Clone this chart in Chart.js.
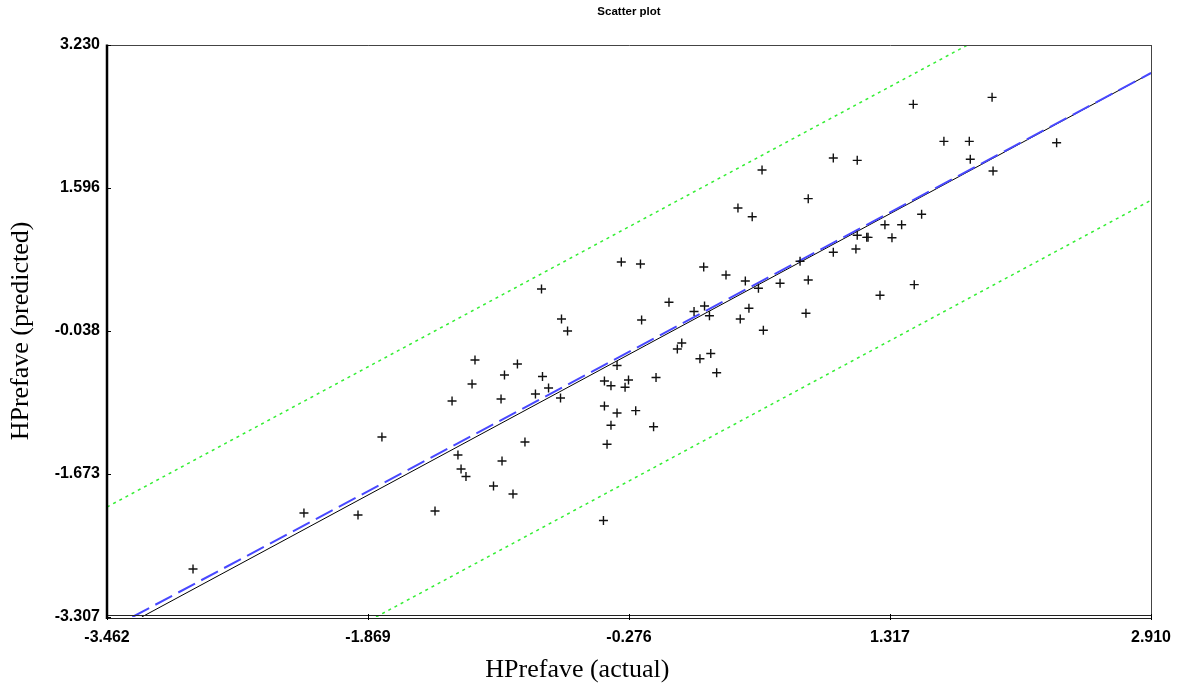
<!DOCTYPE html>
<html>
<head>
<meta charset="utf-8">
<script src="https://cdn.jsdelivr.net/npm/chart.js@4.4.1/dist/chart.umd.min.js"></script>
<style>
  html, body { margin: 0; padding: 0; background: #ffffff; }
  #wrap { width: 1185px; height: 684px; position: relative; }
</style>
</head>
<body>
<div id="wrap"><canvas id="c" width="1185" height="684"></canvas></div>
<script>
// ---- data ----
const actualValues = [
  -2.937, -2.260, -1.930, -1.784, -1.460, -1.356, -1.320, -1.301, -1.271, -1.234,
  -1.216, -1.103, -1.057, -1.051, -1.036, -0.984, -0.957, -0.911, -0.847, -0.810,
  -0.804, -0.767, -0.694, -0.688, -0.651, -0.432, -0.426, -0.426, -0.410, -0.386,
  -0.386, -0.349, -0.349, -0.323, -0.300, -0.279, -0.235, -0.206, -0.199, -0.126,
  -0.111, -0.032, 0.019, 0.046, 0.121, 0.157, 0.180, 0.185, 0.215, 0.223,
  0.259, 0.316, 0.389, 0.403, 0.434, 0.456, 0.476, 0.514, 0.536, 0.544,
  0.646, 0.768, 0.804, 0.818, 0.818, 0.971, 0.971, 1.109, 1.117, 1.117,
  1.175, 1.183, 1.256, 1.286, 1.329, 1.388, 1.459, 1.465, 1.510, 1.646,
  1.801, 1.807, 1.940, 1.946, 2.334
];
const predictedValues = [
  -2.758, -2.118, -2.141, -1.250, -2.095, -0.838, -1.455, -1.615, -1.701, -0.644,
  -0.370, -1.810, -0.815, -1.524, -0.541, -1.901, -0.416, -1.307, -0.758, 0.442,
  -0.558, -0.690, -0.804, 0.099, -0.038, -2.204, -0.610, -0.896, -1.333, -0.664,
  -1.116, -0.433, -0.976, 0.750, -0.682, -0.598, -0.949, 0.727, 0.087, -1.132,
  -0.570, 0.290, -0.244, -0.176, 0.184, -0.355, 0.693, 0.247, 0.136, -0.296,
  -0.515, 0.602, 1.367, 0.099, 0.533, 0.221, 1.268, 0.450, 1.801, -0.030,
  0.507, 0.758, 0.164, 1.474, 0.544, 0.861, 1.939, 0.899, 1.912, 1.055,
  1.032, 1.032, 0.370, 1.176, 1.028, 1.176, 2.552, 0.491, 1.295, 2.129,
  2.129, 1.924, 2.632, 1.790, 2.113
];

// reference lines (end points)
const identityX = [-3.307, 2.910];
const identityY = [-3.307, 2.910];
const fitX = [-3.250, 2.910];
const fitY = [-3.307, 2.909];
const upperBandX = [-3.462, 1.790];
const upperBandY = [-2.050, 3.230];
const lowerBandX = [-1.820, 2.910];
const lowerBandY = [-3.307, 1.455];

// axes
const xRange = [-3.462, 2.910];
const yRange = [-3.307, 3.230];
const xTicks = [-3.462, -1.869, -0.276, 1.317, 2.910];
const xTickLabels = ['-3.462', '-1.869', '-0.276', '1.317', '2.910'];
const yTicks = [-3.307, -1.673, -0.038, 1.596, 3.230];
const yTickLabels = ['-3.307', '-1.673', '-0.038', '1.596', '3.230'];

const titleText = 'Scatter plot';
const xTitle = 'HPrefave (actual)';
const yTitle = 'HPrefave (predicted)';

// ---- build ----
const toPts = (xs, ys) => xs.map((x, i) => ({ x: x, y: ys[i] }));

const framePlugin = {
  id: 'frame',
  afterDatasetsDraw(chart) {
    const { ctx, chartArea: a, scales } = chart;
    ctx.save();
    // top and right thin borders
    ctx.strokeStyle = '#444444';
    ctx.lineWidth = 1;
    ctx.beginPath();
    ctx.moveTo(a.left, a.top + 0.5); ctx.lineTo(a.right + 0.5, a.top + 0.5);
    ctx.moveTo(a.right + 0.5, a.top); ctx.lineTo(a.right + 0.5, a.bottom + 2);
    ctx.stroke();
    // bottom double line
    ctx.strokeStyle = '#222222';
    ctx.beginPath();
    ctx.moveTo(a.left, a.bottom - 1.5); ctx.lineTo(a.right + 1, a.bottom - 1.5);
    ctx.moveTo(a.left, a.bottom + 1.5); ctx.lineTo(a.right + 1, a.bottom + 1.5);
    ctx.stroke();
    // left thick border
    ctx.strokeStyle = '#000000';
    ctx.lineWidth = 2.5;
    ctx.beginPath();
    ctx.moveTo(a.left, a.top - 0.5); ctx.lineTo(a.left, a.bottom + 2);
    ctx.stroke();
    // tick marks
    ctx.lineWidth = 1;
    ctx.strokeStyle = '#000000';
    ctx.beginPath();
    yTicks.forEach(v => {
      const py = Math.round(scales.y.getPixelForValue(v)) + 0.5;
      ctx.moveTo(a.left, py); ctx.lineTo(a.left + 4, py);
    });
    xTicks.forEach(v => {
      const px = Math.round(scales.x.getPixelForValue(v)) + 0.5;
      ctx.moveTo(px, a.bottom - 3); ctx.lineTo(px, a.bottom + 3);
    });
    ctx.stroke();

    // chart title, centred over the plot area
    ctx.fillStyle = '#000000';
    ctx.textAlign = 'center';
    ctx.textBaseline = 'middle';
    ctx.font = 'bold 11.5px "Liberation Sans", Arial, sans-serif';
    ctx.fillText(titleText, (a.left + a.right) / 2, 12);

    // x axis title (sits left of centre in the reference)
    ctx.font = '26px "Liberation Serif", "Times New Roman", serif';
    ctx.textBaseline = 'alphabetic';
    ctx.fillText(xTitle, a.left + (a.right - a.left) * 0.4505, 677);
    ctx.restore();
  }
};

const tickFont = { family: '"Liberation Sans", Arial, sans-serif', size: 16, weight: 'bold' };
const axisTitleFont = { family: '"Liberation Serif", "Times New Roman", serif', size: 26 };

new Chart(document.getElementById('c'), {
  type: 'scatter',
  data: {
    datasets: [
      {
        label: 'observations',
        data: toPts(actualValues, predictedValues),
        pointStyle: 'cross',
        pointRadius: 4.5,
        pointBorderWidth: 1.4,
        borderColor: '#111111',
        backgroundColor: '#111111'
      },
      {
        label: 'identity',
        data: toPts(identityX, identityY),
        showLine: true,
        pointRadius: 0,
        borderColor: '#4848ff',
        borderWidth: 2,
        borderDash: [19, 7]
      },
      {
        label: 'fit',
        data: toPts(fitX, fitY),
        showLine: true,
        pointRadius: 0,
        borderColor: '#000000',
        borderWidth: 1
      },
      {
        label: 'upper',
        data: toPts(upperBandX, upperBandY),
        showLine: true,
        pointRadius: 0,
        borderColor: '#33ee33',
        borderWidth: 1.5,
        borderDash: [3, 4]
      },
      {
        label: 'lower',
        data: toPts(lowerBandX, lowerBandY),
        showLine: true,
        pointRadius: 0,
        borderColor: '#33ee33',
        borderWidth: 1.5,
        borderDash: [3, 4]
      }
    ]
  },
  options: {
    responsive: false,
    animation: false,
    events: [],
    layout: { padding: { left: 0, right: 34, top: 45, bottom: 0 } },
    plugins: {
      legend: { display: false },
      tooltip: { enabled: false },
      title: { display: false }
    },
    scales: {
      x: {
        type: 'linear',
        min: xRange[0],
        max: xRange[1],
        grid: { display: false, drawTicks: false },
        border: { display: false },
        afterBuildTicks: s => { s.ticks = xTicks.map(v => ({ value: v })); },
        afterFit: s => { s.height = 67; },
        ticks: {
          autoSkip: false,
          maxRotation: 0,
          padding: 11,
          color: '#000000',
          font: tickFont,
          callback: (v, i) => xTickLabels[i]
        },
        title: { display: false }
      },
      y: {
        type: 'linear',
        min: yRange[0],
        max: yRange[1],
        grid: { display: false, drawTicks: false },
        border: { display: false },
        afterBuildTicks: s => { s.ticks = yTicks.map(v => ({ value: v })); },
        afterFit: s => { s.width = 107; },
        ticks: {
          autoSkip: false,
          padding: 7,
          color: '#000000',
          font: tickFont,
          callback: (v, i) => yTickLabels[i]
        },
        title: {
          display: true,
          text: yTitle,
          color: '#000000',
          font: axisTitleFont,
          padding: { top: 6, bottom: 0 }
        }
      }
    }
  },
  plugins: [framePlugin]
});
</script>
</body>
</html>
